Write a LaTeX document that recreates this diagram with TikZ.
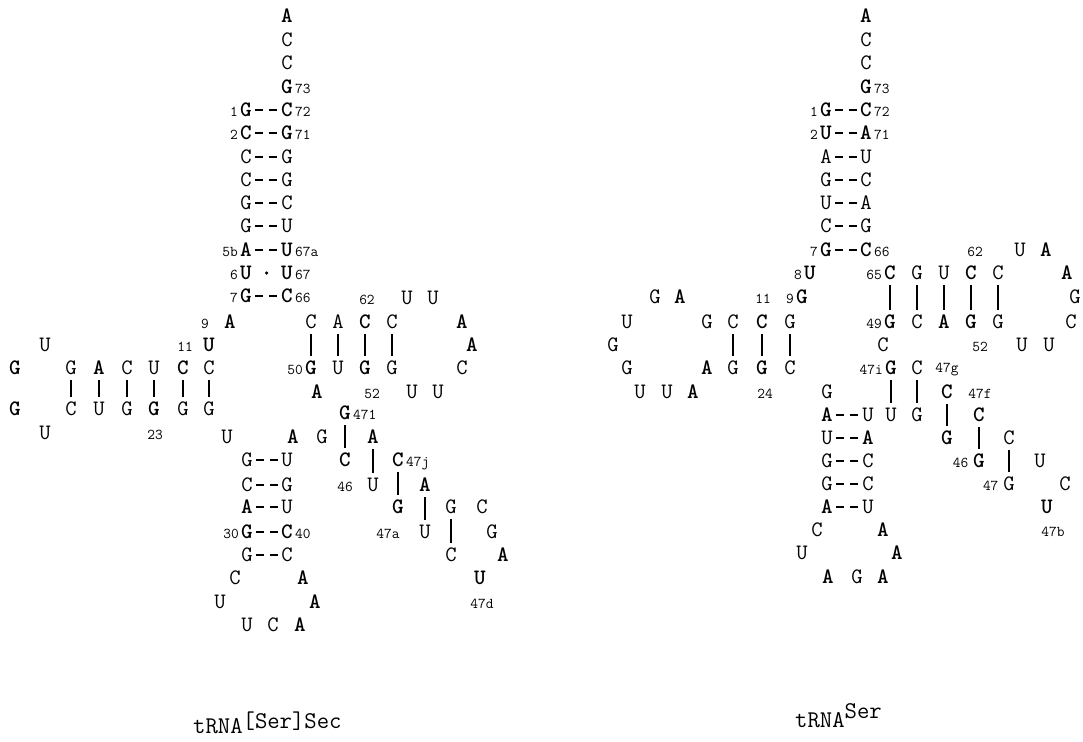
\documentclass[tikz,border=0pt]{standalone}
\usetikzlibrary{positioning}

\begin{document}
\begin{tikzpicture}[
		x=1pt, y=-1pt,
		nt/.style={inner xsep=1pt, inner ysep=2.5pt, text height=13.5pt, text depth=0pt, font=\fontsize{22}{22}\selectfont\ttfamily},
		ntb/.style={nt, font=\fontsize{22}{22}\selectfont\ttfamily\bfseries},
		num/.style={inner sep=0.5pt, font=\fontsize{15}{15}\selectfont\ttfamily},
		wc/.style={line width=1.3pt, dash pattern=on 8pt off 6pt, shorten <=2pt, shorten >=2pt},
		wcb/.style={wc, line width=2.1pt},
		bar/.style={line width=1.3pt, shorten <=3pt, shorten >=3pt},
		dotm/.style={circle, fill, inner sep=0pt, minimum size=3.5pt},
		title/.style={inner sep=0pt, anchor=base west, font=\fontsize{24}{24}\selectfont\ttfamily},
		]
		\useasboundingbox (0,0) rectangle (1083,741);

		% tRNA[Ser]Sec : acceptor arm
		\node[ntb] (sA76) at (287,16) {A};
		\node[nt] (sC75) at (287,40) {C};
		\node[nt] (sC74) at (287,63) {C};
		\node[ntb] (sG73) at (287,87) {G};
		\node[ntb] (s1) at (246,110) {G};  \node[ntb] (s72) at (287,110) {C};
		\node[ntb] (s2) at (246,133) {C};  \node[ntb] (s71) at (287,133) {G};
		\node[nt] (s3) at (246,157) {C};   \node[nt] (s70) at (287,157) {G};
		\node[nt] (s4) at (246,180) {C};   \node[nt] (s69) at (287,180) {G};
		\node[nt] (s5) at (246,203) {G};   \node[nt] (s68) at (287,203) {C};
		\node[nt] (s5a) at (246,226) {G};  \node[nt] (s67b) at (287,226) {U};
		\node[ntb] (s5b) at (246,250) {A}; \node[ntb] (s67a) at (287,250) {U};
		\node[ntb] (s6) at (246,273) {U};  \node[ntb] (s67) at (287,273) {U};
		\node[ntb] (s7) at (246,296) {G};  \node[ntb] (s66) at (287,296) {C};
		\node[num, base right=0.5pt of sG73] (ls73) {73};
		\node[num, base left=0.5pt of s1] (ls1) {1};
		\node[num, base left=0.5pt of s2] (ls2) {2};
		\node[num, base left=0.5pt of s5b] (ls5b) {5b};
		\node[num, base left=0.5pt of s6] (ls6) {6};
		\node[num, base left=0.5pt of s7] (ls7) {7};
		\node[num, base right=0.5pt of s72] (ls72) {72};
		\node[num, base right=0.5pt of s71] (ls71) {71};
		\node[num, base right=0.5pt of s67a] (ls67a) {67a};
		\node[num, base right=0.5pt of s67] (ls67) {67};
		\node[num, base right=0.5pt of s66] (ls66) {66};

		% D arm
		\node[ntb] (s8) at (230,322) {A};
		\node[ntb] (s9) at (209,345) {U};
		\node[nt] (s10) at (209,368) {C};
		\node[ntb] (s11) at (183,368) {C};
		\node[nt] (s12) at (154,368) {U};
		\node[nt] (s13) at (127,368) {C};
		\node[ntb] (s14) at (99,368) {A};
		\node[nt] (s15) at (71,368) {G};
		\node[nt] (s16) at (45,345) {U};
		\node[ntb] (s17) at (15,368) {G};
		\node[ntb] (s18) at (15,409) {G};
		\node[nt] (s19) at (45,433) {U};
		\node[nt] (s20) at (71,409) {C};
		\node[nt] (s21) at (99,409) {U};
		\node[nt] (s22) at (127,409) {G};
		\node[ntb] (s23) at (154,409) {G};
		\node[nt] (s24) at (183,409) {G};
		\node[nt] (s25) at (209,409) {G};
		\node[nt] (s26) at (227,437) {U};
		\node[num] (ls9) at (205,324) {9};
		\node[num] (ls11) at (185,347) {11};
		\node[num] (ls23) at (155,435) {23};

		% anticodon arm
		\node[nt] (s27) at (247,460) {G};  \node[nt] (s43) at (287,460) {U};
		\node[nt] (s28) at (247,485) {C};  \node[nt] (s42) at (287,485) {G};
		\node[ntb] (s29) at (247,507) {A}; \node[nt] (s41) at (287,507) {U};
		\node[ntb] (s30) at (247,532) {G}; \node[ntb] (s40) at (287,532) {C};
		\node[nt] (s31) at (247,555) {G};  \node[nt] (s39) at (287,555) {C};
		\node[nt] (s32) at (235,578) {C};
		\node[nt] (s33) at (220,602) {U};
		\node[nt] (s34) at (247,625) {U};
		\node[nt] (s35) at (273,625) {C};
		\node[ntb] (s36) at (300,625) {A};
		\node[ntb] (s37) at (315,602) {A};
		\node[ntb] (s38) at (303,578) {A};
		\node[num, base left=0.5pt of s30] (ls30) {30};
		\node[num, base right=0.5pt of s40] (ls40) {40};

		% variable arm
		\node[ntb] (sv1) at (293,437) {A};
		\node[nt] (sv2) at (322,437) {G};
		\node[ntb] (sv3) at (345,460) {C};
		\node[nt] (sv4) at (373,485) {U};
		\node[ntb] (sv5) at (398,507) {G};
		\node[nt] (sv6) at (425,532) {U};
		\node[nt] (sv7) at (451,555) {C};
		\node[ntb] (sv8) at (480,578) {U};
		\node[ntb] (sv9) at (503,555) {A};
		\node[nt] (sv10) at (492,532) {G};
		\node[nt] (sv11) at (482,507) {C};
		\node[nt] (sv12) at (451,507) {G};
		\node[ntb] (sv13) at (425,485) {A};
		\node[ntb] (sv14) at (398,460) {C};
		\node[ntb] (sv15) at (373,437) {A};
		\node[ntb] (sv16) at (345,413) {G};
		\node[num, base right=0.5pt of sv16] (lsv16) {471};
		\node[num, base right=0.5pt of sv14] (lsv14) {47j};
		\node[num] (ls46) at (345,487) {46};
		\node[num] (ls47a) at (388,534) {47a};
		\node[num] (ls47d) at (482,604) {47d};

		% T arm
		\node[nt] (st1) at (311,322) {C};
		\node[nt] (st2) at (338,322) {A};
		\node[ntb] (st3) at (365,322) {C};
		\node[nt] (st4) at (392,322) {C};
		\node[nt] (st5) at (407,298) {U};
		\node[nt] (st6) at (433,298) {U};
		\node[ntb] (st7) at (462,322) {A};
		\node[ntb] (st8) at (472,345) {A};
		\node[nt] (st9) at (462,368) {C};
		\node[nt] (st10) at (438,392) {U};
		\node[nt] (st11) at (412,392) {U};
		\node[nt] (st12) at (392,368) {G};
		\node[ntb] (st13) at (365,368) {G};
		\node[nt] (st14) at (338,368) {U};
		\node[ntb] (st15) at (311,368) {G};
		\node[ntb] (st16) at (317,392) {A};
		\node[num, base left=0.5pt of st15] (ls50) {50};
		\node[num] (ls62) at (367,300) {62};
		\node[num] (ls52) at (372,394) {52};

		% tRNASer : acceptor arm
		\node[ntb] (rA76) at (866,16) {A};
		\node[nt] (rC75) at (866,40) {C};
		\node[nt] (rC74) at (866,63) {C};
		\node[ntb] (rG73) at (866,87) {G};
		\node[ntb] (r1) at (826,110) {G}; \node[ntb] (r72) at (866,110) {C};
		\node[ntb] (r2) at (826,133) {U}; \node[ntb] (r71) at (866,133) {A};
		\node[nt] (r3) at (826,157) {A};  \node[nt] (r70) at (866,157) {U};
		\node[nt] (r4) at (826,180) {G};  \node[nt] (r69) at (866,180) {C};
		\node[nt] (r5) at (826,203) {U};  \node[nt] (r68) at (866,203) {A};
		\node[nt] (r6) at (826,226) {C};  \node[nt] (r67) at (866,226) {G};
		\node[ntb] (r7) at (826,250) {G}; \node[ntb] (r66) at (866,250) {C};
		\node[ntb] (r8) at (810,273) {U};
		\node[ntb] (r9) at (802,297) {G};
		\node[num, base right=0.5pt of rG73] (lr73) {73};
		\node[num, base left=0.5pt of r1] (lr1) {1};
		\node[num, base left=0.5pt of r2] (lr2) {2};
		\node[num, base left=0.5pt of r7] (lr7) {7};
		\node[num, base left=0.5pt of r8] (lr8) {8};
		\node[num, base left=0.5pt of r9] (lr9) {9};
		\node[num, base right=0.5pt of r72] (lr72) {72};
		\node[num, base right=0.5pt of r71] (lr71) {71};
		\node[num, base right=0.5pt of r66] (lr66) {66};

		% D arm
		\node[nt] (r10) at (790,322) {G};
		\node[ntb] (r11) at (762,322) {C};
		\node[nt] (r12) at (733,322) {C};
		\node[nt] (r13) at (707,322) {G};
		\node[ntb] (r14) at (680,297) {A};
		\node[nt] (r15) at (655,297) {G};
		\node[nt] (r16) at (627,322) {U};
		\node[nt] (r17) at (613,345) {G};
		\node[nt] (r18) at (627,368) {G};
		\node[nt] (r19) at (640,392) {U};
		\node[nt] (r20) at (667,392) {U};
		\node[ntb] (r21) at (693,392) {A};
		\node[ntb] (r22) at (707,368) {A};
		\node[nt] (r23) at (733,368) {G};
		\node[ntb] (r24) at (762,368) {G};
		\node[nt] (r25) at (790,368) {C};
		\node[nt] (r26) at (827,392) {G};
		\node[num] (lr11) at (763,299) {11};
		\node[num] (lr24) at (765,394) {24};

		% anticodon arm
		\node[ntb] (r27) at (827,415) {A}; \node[nt] (r43) at (868,415) {U};
		\node[nt] (r28) at (827,438) {U};  \node[ntb] (r42) at (868,438) {A};
		\node[nt] (r29) at (827,461) {G};  \node[nt] (r41) at (868,461) {C};
		\node[nt] (r30) at (827,484) {G};  \node[nt] (r40) at (868,484) {C};
		\node[ntb] (r31) at (827,507) {A}; \node[nt] (r39) at (868,507) {U};
		\node[nt] (r32) at (817,530) {C};
		\node[nt] (r33) at (802,553) {U};
		\node[ntb] (r34) at (828,577) {A};
		\node[nt] (r35) at (857,577) {G};
		\node[ntb] (r36) at (883,577) {A};
		\node[ntb] (r37) at (897,553) {A};
		\node[ntb] (r38) at (883,530) {A};

		% variable arm
		\node[nt] (rv1) at (883,345) {C};
		\node[ntb] (rv2) at (891,368) {G};
		\node[nt] (rv3) at (917,368) {C};
		\node[ntb] (rv4) at (947,392) {C};
		\node[ntb] (rv5) at (979,415) {C};
		\node[nt] (rv6) at (1009,438) {C};
		\node[nt] (rv7) at (1040,461) {U};
		\node[nt] (rv8) at (1065,484) {C};
		\node[ntb] (rv9) at (1047,507) {U};
		\node[nt] (rv10) at (1009,484) {G};
		\node[ntb] (rv11) at (979,461) {G};
		\node[ntb] (rv12) at (947,438) {G};
		\node[nt] (rv13) at (917,415) {G};
		\node[nt] (rv14) at (891,415) {U};
		\node[num, base left=0.5pt of rv2] (lrv2) {47i};
		\node[num] (lr47g) at (947,370) {47g};
		\node[num] (lr47f) at (980,394) {47f};
		\node[num, base left=3pt of rv11] (lr46) {46};
		\node[num, base left=3pt of rv10] (lr47) {47};
		\node[num] (lr47b) at (1053,532) {47b};

		% T arm
		\node[ntb] (rt1) at (890,273) {C};
		\node[nt] (rt2) at (917,273) {G};
		\node[nt] (rt3) at (944,273) {U};
		\node[ntb] (rt4) at (971,273) {C};
		\node[nt] (rt5) at (998,273) {C};
		\node[nt] (rt6) at (1020,250) {U};
		\node[ntb] (rt7) at (1046,250) {A};
		\node[ntb] (rt8) at (1067,273) {A};
		\node[nt] (rt9) at (1075,297) {G};
		\node[nt] (rt10) at (1071,322) {C};
		\node[nt] (rt11) at (1049,345) {U};
		\node[nt] (rt12) at (1022,345) {U};
		\node[nt] (rt13) at (998,322) {G};
		\node[ntb] (rt14) at (971,322) {G};
		\node[ntb] (rt15) at (944,322) {A};
		\node[nt] (rt16) at (917,322) {C};
		\node[ntb] (rt17) at (890,322) {G};
		\node[num, base left=0.5pt of rt1] (lr65) {65};
		\node[num, base left=0.5pt of rt17] (lr49) {49};
		\node[num] (lr62) at (975,252) {62};
		\node[num] (lr52) at (980,347) {52};

		% base pairs
		\foreach \a/\b in {s3/s70, s4/s69, s5/s68, s5a/s67b, s27/s43, s28/s42, s29/s41, s31/s39,
			r3/r70, r4/r69, r5/r68, r6/r67, r27/r43, r28/r42, r29/r41, r30/r40, r31/r39}
			\draw[wc] (\a) -- (\b);
		\foreach \a/\b in {s1/s72, s2/s71, s5b/s67a, s7/s66, s30/s40, r1/r72, r2/r71, r7/r66}
			\draw[wcb] (\a) -- (\b);
		\path (s6) -- node[dotm] (sdot) {} (s67);
		\foreach \a/\b in {s15/s20, s14/s21, s13/s22, s12/s23, s11/s24, s10/s25,
			st1/st15, st2/st14, st3/st13, st4/st12,
			sv16/sv3, sv15/sv4, sv14/sv5, sv13/sv6, sv12/sv7,
			r12/r23, r11/r24, r10/r25,
			rt1/rt17, rt2/rt16, rt3/rt15, rt4/rt14, rt5/rt13,
			rv2/rv14, rv3/rv13, rv4/rv12, rv5/rv11, rv6/rv10}
			\draw[bar] (\a) -- (\b);

		% names
		\node[title] (tsec) at (193,733) {tRNA\raisebox{5pt}{[Ser]Sec}};
		\node[title] (tser) at (795,727) {tRNA\raisebox{9pt}{Ser}};
	\end{tikzpicture}
\end{document}
